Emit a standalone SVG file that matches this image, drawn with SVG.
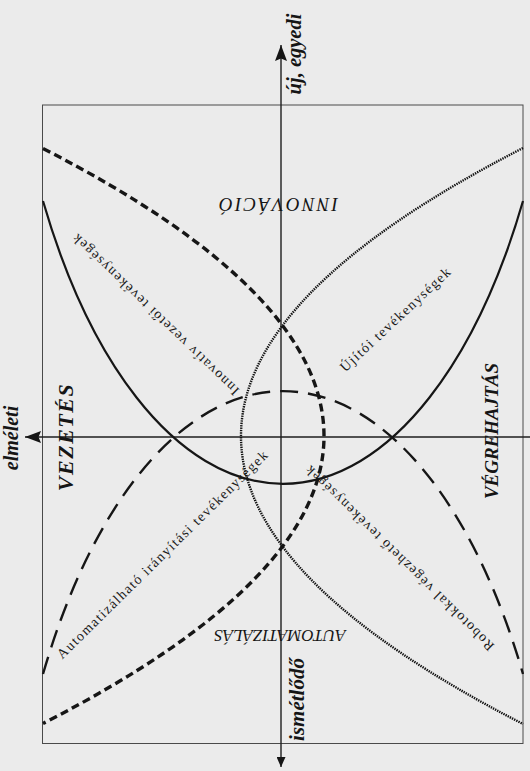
<svg xmlns="http://www.w3.org/2000/svg" width="530" height="771" viewBox="0 0 530 771">
  <style>
    .frame{fill:none;stroke:#4a4a4a;stroke-width:1}
    .axis{fill:none;stroke:#1e1e1e;stroke-width:1.4}
    .solid{fill:none;stroke:#161616;stroke-width:2.2}
    .ldash{fill:none;stroke:#161616;stroke-width:2.4;stroke-dasharray:18 10}
    .hdash{fill:none;stroke:#161616;stroke-width:3.4;stroke-dasharray:8 4.5}
    .dots{fill:none;stroke:#121212;stroke-width:2.4;stroke-dasharray:1.4 1}
    .ax{font-family:"Liberation Serif","DejaVu Serif",serif;font-weight:bold;font-style:italic;fill:#151515;text-anchor:middle}
    .zone{font-family:"Liberation Serif","DejaVu Serif",serif;font-style:italic;fill:#151515;text-anchor:middle}
    .diag{font-family:"Liberation Serif","DejaVu Serif",serif;font-size:14px;letter-spacing:1.4px;fill:#1a1a1a;text-anchor:middle}
  </style>
  <defs>
    <marker id="ah" viewBox="0 0 16 12" markerWidth="16" markerHeight="12" refX="16" refY="6" orient="auto" markerUnits="userSpaceOnUse">
      <path d="M0,0 L16,6 L0,12 L2.5,6 z" fill="#151515"/>
    </marker>
    <marker id="ahs" viewBox="0 0 10 9" markerWidth="10" markerHeight="9" refX="10" refY="4.5" orient="auto-start-reverse" markerUnits="userSpaceOnUse">
      <path d="M0,0 L10,4.5 L0,9 z" fill="#151515"/>
    </marker>
  </defs>
  <rect width="530" height="771" fill="#ebebeb"/>
  <g id="frame">
    <rect class="frame" x="42.5" y="105" width="480.5" height="638.5"/>
  </g>
  <g id="connectors">
    <line id="axis-vertical" class="axis" x1="281" y1="767" x2="281" y2="45" marker-start="url(#ahs)" marker-end="url(#ah)"/>
    <line id="axis-horizontal" class="axis" x1="530" y1="437" x2="25" y2="437" marker-end="url(#ah)"/>
    <path id="curve-solid" class="solid" d="M43,201 A280.6,587 0 0 0 523,201"/>
    <path id="curve-longdash" class="ldash" d="M43,674 A280.6,587 0 0 1 523,674"/>
    <path id="curve-heavydash" class="hdash" d="M43,148.5 Q605,436 43,723.5"/>
    <path id="curve-dotted" class="dots" d="M523,148 Q-41,436 523,724"/>
  </g>
  <g id="label-uj-egyedi"><text class="ax" font-size="20.5" transform="translate(301,54) rotate(-90)">új, egyedi</text></g>
  <g id="label-ismetlodo"><text class="ax" font-size="21" transform="translate(304,699.5) rotate(-90)">ismétlődő</text></g>
  <g id="label-elmeleti"><text class="ax" font-size="20" transform="translate(18,438) rotate(-90)">elméleti</text></g>
  <g id="label-vezetes"><text class="ax" font-size="22" letter-spacing="1.5" transform="translate(73,437) rotate(-90)">VEZETÉS</text></g>
  <g id="label-vegrehajtas"><text class="ax" font-size="19" transform="translate(498,431) rotate(-90)">VÉGREHAJTÁS</text></g>
  <g id="label-innovacio"><text class="zone" font-size="19" letter-spacing="2.2" transform="translate(277.5,198) rotate(180)">INNOVÁCIÓ</text></g>
  <g id="label-automatizalas"><text class="zone" font-size="17" transform="translate(280,630) rotate(180)">AUTOMATIZÁLÁS</text></g>
  <g id="label-innovativ"><text class="diag" transform="translate(158.4,311) rotate(224)">Innovatív vezetői tevékenységek</text></g>
  <g id="label-ujitoi"><text class="diag" transform="translate(398.9,322.5) rotate(-43)">Újítói tevékenységek</text></g>
  <g id="label-automatizalhato"><text class="diag" transform="translate(165.9,557.5) rotate(-44.6)">Automatizálható irányítási tevékenységek</text></g>
  <g id="label-robotokkal"><text class="diag" transform="translate(402.4,554.5) rotate(224.4)">Robotokkal végezhető tevékenységek</text></g>
</svg>
